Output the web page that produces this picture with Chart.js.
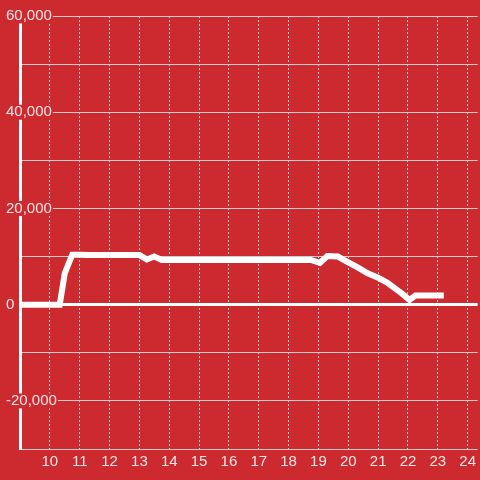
<!DOCTYPE html>
<html><head><meta charset="utf-8">
<script src="https://cdn.jsdelivr.net/npm/chart.js@4/dist/chart.umd.min.js"></script>
<style>html,body{margin:0;padding:0;background:#cd2a30;}#wrap{width:480px;height:480px;position:relative;}</style>
</head><body><div id="wrap"><canvas id="c"></canvas></div>
<script>
const hours  = [9, 10.33, 10.5, 10.75, 11, 11.3, 13, 13.25, 13.5, 13.75, 18.75, 19.05, 19.3, 19.65, 20, 20.3, 20.65, 21, 21.3, 21.8, 22.05, 22.25, 23.2];
const values = [0, 0, 6500, 10400, 10400, 10300, 10300, 9400, 10000, 9300, 9300, 8700, 10100, 10000, 8800, 7800, 6500, 5600, 4600, 2300, 1000, 1900, 1900];
const xTicks = [10, 11, 12, 13, 14, 15, 16, 17, 18, 19, 20, 21, 22, 23, 24];
const yTicks = [-30000, -20000, -10000, 0, 10000, 20000, 30000, 40000, 50000, 60000];
const yLabelled = [-20000, 0, 20000, 40000, 60000];

const BG = '#cd2a30';
const TXT = 'rgba(255,255,255,0.88)';
const GRID = '#cccccc';

new Chart(document.getElementById('c'), {
  type: 'line',
  data: {
    datasets: [{
      data: hours.map((h, i) => ({x: h, y: values[i]})),
      borderColor: '#ffffff',
      borderWidth: 6,
      pointRadius: 0,
      tension: 0,
      fill: false
    }]
  },
  options: {
    responsive: true,
    maintainAspectRatio: false,
    animation: false,
    layout: {autoPadding: false, padding: {left: 20, top: 16, right: 0, bottom: 5}},
    plugins: {legend: {display: false}, tooltip: {enabled: false}, title: {display: false}},
    scales: {
      x: {
        type: 'linear',
        min: 9,
        max: 24.333,
        afterBuildTicks: axis => { axis.ticks = xTicks.map(v => ({value: v})); },
        grid: {color: GRID, lineWidth: 1, drawTicks: false},
        border: {display: false, dash: [2, 2]},
        ticks: {color: TXT, font: {family: 'Liberation Sans', size: 15}, padding: 4, maxRotation: 0, autoSkip: false,
          callback: v => String(v)}
      },
      y: {
        type: 'linear',
        min: -30000,
        max: 60000,
        afterBuildTicks: axis => { axis.ticks = yTicks.map(v => ({value: v})); },
        afterFit: axis => { axis.width = 0; },
        grid: {
          color: ctx => ctx.tick && ctx.tick.value === 0 ? '#ffffff' : GRID,
          lineWidth: ctx => ctx.tick && ctx.tick.value === 0 ? 3 : 1,
          drawTicks: false
        },
        border: {display: true, color: '#ffffff', width: 3},
        ticks: {
          z: 1,
          mirror: true,
          padding: -14,
          color: TXT,
          font: {family: 'Liberation Sans', size: 15, lineHeight: 1},
          showLabelBackdrop: ctx => yLabelled.includes(ctx.tick.value),
          backdropColor: BG,
          backdropPadding: {x: 1, y: 0},
          callback: v => yLabelled.includes(v) ? v.toLocaleString('en-US') : ''
        }
      }
    }
  }
});
</script></body></html>
